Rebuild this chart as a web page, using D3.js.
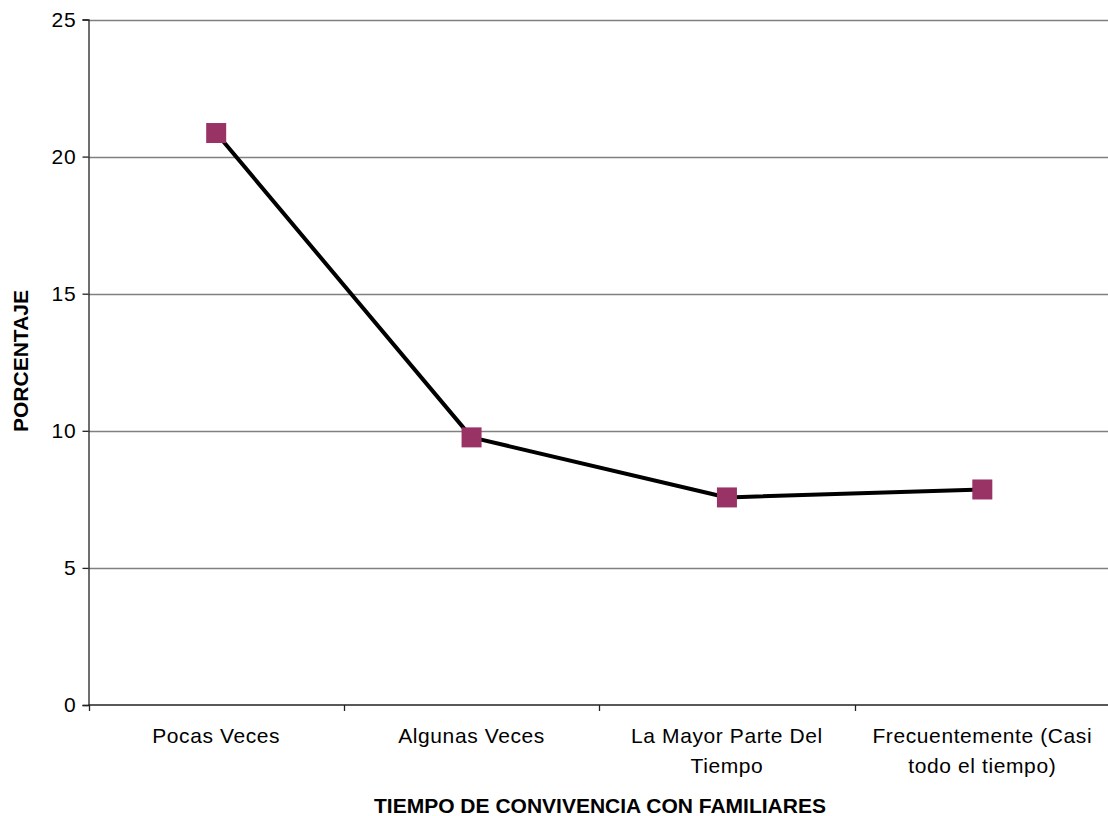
<!DOCTYPE html>
<html>
<head>
<meta charset="utf-8">
<script src="https://cdn.jsdelivr.net/npm/d3@7"></script>
<style>
  html, body { margin: 0; padding: 0; background: #fff; }
  svg { display: block; font-family: "Liberation Sans", Arial, sans-serif; }
</style>
</head>
<body>
<svg id="chart" width="1108" height="816"></svg>
<script>
// Categories (each label split into its display lines)
const categories = ["Pocas Veces", "Algunas Veces", "La Mayor Parte Del Tiempo", "Frecuentemente (Casi todo el tiempo)"];
const categoryLines = [["Pocas Veces"], ["Algunas Veces"], ["La Mayor Parte Del", "Tiempo"], ["Frecuentemente (Casi", "todo el tiempo)"]];
// Percentage per category
const values = [20.86, 9.76, 7.57, 7.86];
const yTicks = [0, 5, 10, 15, 20, 25];

const xTitle = "TIEMPO DE CONVIVENCIA CON FAMILIARES";
const yTitle = "PORCENTAJE";

const svg = d3.select("#chart");
const plotLeft = 88.5, plotRight = 1110, plotTop = 19.5, plotBottom = 705;

const x = d3.scaleBand().domain(categories).range([plotLeft, plotRight]).padding(0);
const y = d3.scaleLinear().domain([0, 25]).range([plotBottom, plotTop]);

// Horizontal gridlines
svg.append("g")
  .selectAll("line")
  .data(yTicks.filter(d => d > 0))
  .join("line")
  .attr("x1", plotLeft).attr("x2", plotRight)
  .attr("y1", d => Math.round(y(d)) + 0.5).attr("y2", d => Math.round(y(d)) + 0.5)
  .attr("stroke", "#808080").attr("stroke-width", 1.3);

// Y axis
const yAxis = svg.append("g")
  .attr("transform", `translate(${plotLeft},0)`)
  .call(d3.axisLeft(y).tickValues(yTicks).tickSize(6).tickPadding(6).tickFormat(d3.format("d")));
yAxis.select(".domain").attr("stroke", "#222").attr("stroke-width", 1.3);
yAxis.selectAll(".tick line").attr("stroke", "#222").attr("stroke-width", 1.3);
yAxis.selectAll(".tick text").attr("font-size", 21).attr("fill", "#000")
  .attr("letter-spacing", 0.8)
  .style("font-family", "'Liberation Sans', Arial, sans-serif");

// X axis: ticks at band boundaries
const xAxisG = svg.append("g").attr("transform", `translate(0,${plotBottom})`);
xAxisG.append("line").attr("x1", plotLeft).attr("x2", plotRight).attr("y1", 0).attr("y2", 0)
  .attr("stroke", "#222").attr("stroke-width", 1.3);
xAxisG.selectAll("line.tk")
  .data(categories)
  .join("line").attr("class", "tk")
  .attr("x1", d => Math.round(x(d)) + 0.5).attr("x2", d => Math.round(x(d)) + 0.5)
  .attr("y1", 0).attr("y2", 6)
  .attr("stroke", "#222").attr("stroke-width", 1.3);

const lbl = xAxisG.selectAll("text.cat")
  .data(categories.map((c, i) => ({ c, lines: categoryLines[i] })))
  .join("text").attr("class", "cat")
  .attr("text-anchor", "middle")
  .attr("font-size", 21)
  .attr("letter-spacing", 0.6)
  .attr("fill", "#000")
  .attr("x", d => x(d.c) + x.bandwidth() / 2)
  .attr("y", 38);
lbl.selectAll("tspan")
  .data(d => d.lines.map(l => ({ l, cx: x(d.c) + x.bandwidth() / 2 })))
  .join("tspan")
  .attr("x", d => d.cx)
  .attr("dy", (d, i) => i === 0 ? 0 : 30)
  .text(d => d.l);

// Axis titles
svg.append("text")
  .attr("x", 600).attr("y", 813)
  .attr("text-anchor", "middle")
  .attr("font-size", 21).attr("font-weight", "bold")
  .text(xTitle);

svg.append("text")
  .attr("transform", `translate(28,${361}) rotate(-90)`)
  .attr("text-anchor", "middle")
  .attr("font-size", 21).attr("font-weight", "bold")
  .text(yTitle);

// Line series
const pts = categories.map((c, i) => ({ c, v: values[i] }));
const line = d3.line().x(d => x(d.c) + x.bandwidth() / 2).y(d => y(d.v));
svg.append("path")
  .datum(pts)
  .attr("d", line)
  .attr("fill", "none")
  .attr("stroke", "#000")
  .attr("stroke-width", 4)
  .attr("stroke-linejoin", "round");

// Square markers
const ms = 20;
svg.append("g").selectAll("rect")
  .data(pts)
  .join("rect")
  .attr("x", d => x(d.c) + x.bandwidth() / 2 - ms / 2)
  .attr("y", d => y(d.v) - ms / 2)
  .attr("width", ms).attr("height", ms)
  .attr("fill", "#993366");
</script>
</body>
</html>
